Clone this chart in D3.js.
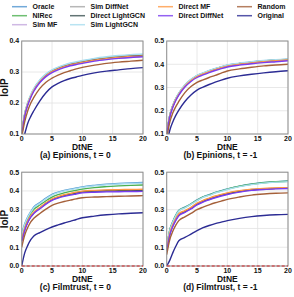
<!DOCTYPE html>
<html><head><meta charset="utf-8">
<script src="https://cdn.jsdelivr.net/npm/d3@7"></script>
<style>body{margin:0;background:#fff}svg{display:block}text{font-family:"Liberation Sans",Arial,sans-serif;font-weight:bold;fill:#111}</style>
</head><body><svg id="c" width="294" height="297"></svg>
<script>
const seriesNames = ["Oracle","NIRec","Sim MF","Sim DiffNet","Direct LightGCN","Sim LightGCN","Direct MF","Direct DiffNet","Random","Original"];
const seriesColors = ["#4f95d0","#4cb050","#c4a8de","#a6a6a6","#3c5252","#a8def0","#ff9a45","#7a3cf0","#a5603a","#2c2c94"];
const xValues = [0,0.5,1,1.5,2,3,4,5,6,7,8,9,10,12,14,16,18,20];
const xTicks = [0,5,10,15,20];
const captions = ["(a) Epinions, t = 0","(b) Epinions, t = -1","(c) Filmtrust, t = 0","(d) Filmtrust, t = -1"];
const yTicksA = [0.1,0.2,0.3,0.4];
const yTicksB = [0.1,0.2,0.3,0.4,0.5];
const yTicksCD = [0.0,0.1,0.2,0.3,0.4,0.5];
const zeroLine = [0,0];

// Panel (a) Epinions, t = 0
const epinionsT0 = [
 [0.100,0.165,0.200,0.225,0.245,0.273,0.292,0.305,0.314,0.321,0.327,0.331,0.335,0.342,0.347,0.351,0.354,0.356],
 [0.099,0.164,0.199,0.224,0.244,0.272,0.291,0.304,0.313,0.320,0.326,0.330,0.334,0.341,0.346,0.350,0.353,0.355],
 [0.098,0.163,0.198,0.223,0.243,0.271,0.290,0.303,0.312,0.319,0.325,0.329,0.333,0.340,0.345,0.349,0.352,0.354],
 [0.099,0.164,0.199,0.224,0.244,0.272,0.291,0.304,0.313,0.320,0.326,0.330,0.334,0.341,0.346,0.350,0.353,0.355],
 [0.098,0.162,0.197,0.222,0.242,0.270,0.289,0.302,0.311,0.318,0.324,0.328,0.332,0.339,0.344,0.348,0.351,0.353],
 [0.101,0.167,0.202,0.227,0.247,0.275,0.294,0.307,0.316,0.323,0.329,0.333,0.337,0.344,0.349,0.353,0.356,0.358],
 [0.097,0.161,0.196,0.221,0.241,0.269,0.288,0.301,0.310,0.317,0.323,0.327,0.331,0.338,0.343,0.347,0.350,0.352],
 [0.094,0.158,0.193,0.218,0.238,0.266,0.285,0.298,0.307,0.314,0.320,0.324,0.328,0.335,0.340,0.344,0.347,0.349],
 [0.090,0.140,0.175,0.200,0.218,0.247,0.267,0.280,0.290,0.298,0.304,0.310,0.315,0.322,0.328,0.332,0.335,0.338],
 [0.060,0.100,0.135,0.157,0.175,0.207,0.233,0.252,0.263,0.272,0.279,0.284,0.289,0.297,0.303,0.307,0.311,0.314]
];
// Panel (b) Epinions, t = -1
const epinionsT1 = [
 [0.100,0.180,0.222,0.252,0.275,0.310,0.334,0.351,0.362,0.372,0.381,0.389,0.396,0.404,0.410,0.415,0.419,0.422],
 [0.100,0.179,0.221,0.251,0.274,0.309,0.333,0.350,0.361,0.371,0.380,0.388,0.395,0.403,0.409,0.414,0.418,0.421],
 [0.099,0.178,0.220,0.250,0.273,0.308,0.332,0.349,0.360,0.370,0.379,0.387,0.394,0.402,0.408,0.413,0.417,0.420],
 [0.100,0.179,0.221,0.251,0.274,0.309,0.333,0.350,0.361,0.371,0.380,0.388,0.395,0.403,0.409,0.414,0.418,0.421],
 [0.099,0.177,0.219,0.249,0.272,0.307,0.331,0.348,0.359,0.369,0.378,0.386,0.393,0.401,0.407,0.412,0.416,0.419],
 [0.101,0.181,0.223,0.253,0.276,0.311,0.335,0.352,0.363,0.373,0.382,0.390,0.397,0.405,0.411,0.416,0.420,0.423],
 [0.098,0.176,0.218,0.248,0.271,0.306,0.330,0.347,0.358,0.368,0.377,0.385,0.392,0.400,0.406,0.411,0.415,0.418],
 [0.096,0.172,0.214,0.244,0.267,0.302,0.326,0.343,0.354,0.364,0.373,0.381,0.388,0.396,0.402,0.407,0.411,0.415],
 [0.080,0.150,0.190,0.218,0.240,0.278,0.304,0.322,0.333,0.343,0.352,0.362,0.371,0.380,0.387,0.393,0.397,0.400],
 [0.050,0.115,0.152,0.180,0.203,0.240,0.268,0.289,0.302,0.313,0.323,0.332,0.340,0.350,0.357,0.363,0.368,0.372]
];
// Panel (c) Filmtrust, t = 0
const filmtrustT0 = [
 [0.170,0.225,0.262,0.290,0.315,0.338,0.362,0.382,0.394,0.403,0.410,0.416,0.422,0.430,0.436,0.440,0.443,0.445],
 [0.150,0.212,0.250,0.280,0.302,0.325,0.348,0.367,0.380,0.390,0.398,0.404,0.410,0.418,0.423,0.427,0.430,0.432],
 [0.132,0.193,0.234,0.262,0.283,0.308,0.333,0.353,0.365,0.374,0.381,0.387,0.393,0.396,0.398,0.399,0.400,0.401],
 [0.138,0.198,0.238,0.266,0.285,0.310,0.335,0.356,0.368,0.378,0.385,0.392,0.397,0.401,0.404,0.405,0.406,0.407],
 [0.135,0.196,0.236,0.264,0.284,0.309,0.334,0.354,0.366,0.376,0.383,0.389,0.395,0.399,0.401,0.402,0.403,0.404],
 [0.165,0.222,0.259,0.287,0.311,0.334,0.358,0.378,0.391,0.400,0.407,0.413,0.419,0.427,0.433,0.437,0.440,0.442],
 [0.140,0.200,0.240,0.268,0.287,0.312,0.337,0.358,0.370,0.380,0.387,0.394,0.399,0.403,0.406,0.407,0.408,0.409],
 [0.130,0.190,0.232,0.260,0.280,0.305,0.330,0.350,0.362,0.371,0.378,0.384,0.390,0.393,0.395,0.396,0.397,0.398],
 [0.100,0.165,0.205,0.235,0.254,0.280,0.303,0.323,0.335,0.344,0.351,0.358,0.364,0.368,0.370,0.372,0.373,0.375],
 [0.000,0.070,0.110,0.140,0.160,0.178,0.194,0.208,0.219,0.229,0.238,0.248,0.257,0.266,0.273,0.278,0.281,0.284]
];
// Panel (d) Filmtrust, t = -1
const filmtrustT1 = [
 [0.100,0.192,0.237,0.272,0.297,0.314,0.331,0.352,0.369,0.380,0.392,0.402,0.411,0.426,0.437,0.445,0.450,0.454],
 [0.100,0.190,0.235,0.270,0.295,0.312,0.330,0.350,0.368,0.378,0.391,0.400,0.410,0.425,0.436,0.444,0.449,0.452],
 [0.082,0.167,0.212,0.245,0.270,0.288,0.306,0.328,0.343,0.355,0.366,0.375,0.383,0.396,0.405,0.410,0.413,0.415],
 [0.088,0.173,0.218,0.250,0.276,0.293,0.311,0.333,0.348,0.360,0.371,0.380,0.388,0.400,0.408,0.412,0.414,0.416],
 [0.085,0.170,0.215,0.248,0.273,0.290,0.308,0.330,0.345,0.357,0.368,0.377,0.385,0.398,0.406,0.411,0.414,0.416],
 [0.098,0.188,0.233,0.268,0.293,0.310,0.328,0.348,0.366,0.376,0.389,0.398,0.408,0.423,0.434,0.442,0.447,0.450],
 [0.090,0.175,0.220,0.252,0.278,0.295,0.313,0.335,0.350,0.362,0.373,0.382,0.390,0.402,0.410,0.414,0.416,0.418],
 [0.080,0.165,0.210,0.243,0.268,0.286,0.304,0.326,0.341,0.353,0.364,0.373,0.381,0.394,0.403,0.408,0.411,0.413],
 [0.060,0.140,0.185,0.218,0.242,0.262,0.280,0.300,0.314,0.326,0.337,0.346,0.355,0.368,0.378,0.384,0.388,0.390],
 [0.000,0.030,0.070,0.105,0.135,0.152,0.170,0.188,0.204,0.216,0.226,0.234,0.242,0.254,0.263,0.269,0.273,0.275]
];

const panels = [
 {data:epinionsT0, y:[0.1,0.4], ticks:yTicksA, x0:21.7, x1:143, y0:41, y1:134, cap:captions[0], yl:true, zero:false},
 {data:epinionsT1, y:[0.1,0.5], ticks:yTicksB, x0:166.7, x1:288, y0:41, y1:134, cap:captions[1], yl:false, zero:false},
 {data:filmtrustT0, y:[0,0.5], ticks:yTicksCD, x0:21.7, x1:143, y0:172.2, y1:266, cap:captions[2], yl:true, zero:true},
 {data:filmtrustT1, y:[0,0.5], ticks:yTicksCD, x0:166.7, x1:288, y0:172.2, y1:266, cap:captions[3], yl:false, zero:true}
];

const svg = d3.select("#c");
const defs = svg.append("defs");

panels.forEach((p,i)=>{
  const x = d3.scaleLinear().domain([0,20]).range([p.x0,p.x1]);
  const y = d3.scaleLinear().domain(p.y).range([p.y1,p.y0]);
  const g = svg.append("g");
  defs.append("clipPath").attr("id","clip"+i).append("rect")
    .attr("x",p.x0).attr("y",p.y0).attr("width",p.x1-p.x0).attr("height",p.y1-p.y0);
  // grid
  g.selectAll(".gy").data(p.ticks).join("line")
    .attr("x1",p.x0).attr("x2",p.x1).attr("y1",d=>y(d)).attr("y2",d=>y(d))
    .attr("stroke","#e2e2e2").attr("stroke-width",0.8);
  g.selectAll(".gx").data(xTicks).join("line")
    .attr("y1",p.y0).attr("y2",p.y1).attr("x1",d=>x(d)).attr("x2",d=>x(d))
    .attr("stroke","#e2e2e2").attr("stroke-width",0.8);
  // lines
  const line = d3.line().x((d,k)=>x(xValues[k])).y(d=>y(d)).curve(d3.curveMonotoneX);
  const lg = g.append("g").attr("clip-path","url(#clip"+i+")");
  p.data.forEach((s,j)=>{
    lg.append("path").attr("d",line(s)).attr("fill","none")
      .attr("stroke",seriesColors[j]).attr("stroke-width",1.4);
  });
  // frame
  g.append("rect").attr("x",p.x0).attr("y",p.y0).attr("width",p.x1-p.x0).attr("height",p.y1-p.y0)
    .attr("fill","none").attr("stroke","#8f8f8f").attr("stroke-width",1);
  if(p.zero){
    g.append("path").attr("d",d3.line().x((d,k)=>x(k*20)).y(d=>y(d))(zeroLine))
      .attr("stroke","#d62728").attr("stroke-width",1.2).attr("stroke-dasharray","3,2").attr("fill","none");
  }
  // tick labels
  g.selectAll(".ty").data(p.ticks).join("text")
    .attr("x",p.x0-2.5).attr("y",d=>y(d)).attr("dy","0.35em").attr("text-anchor","end")
    .attr("font-size",7).text(d=>d3.format(".1f")(d));
  g.selectAll(".tx").data(xTicks).join("text")
    .attr("x",d=>x(d)).attr("y",p.y1+7).attr("text-anchor","middle")
    .attr("font-size",7).text(d=>d);
  g.append("text").attr("x",(p.x0+p.x1)/2).attr("y",p.y1+15.8).attr("text-anchor","middle")
    .attr("font-size",8.5).text("DtNE");
  g.append("text").attr("x",(p.x0+p.x1)/2 - 7).attr("y",p.y1+24.3).attr("text-anchor","middle")
    .attr("font-size",8.5).text(p.cap);
  if(p.yl){
    g.append("text").attr("transform",`translate(8,${(p.y0+p.y1)/2}) rotate(-90)`)
      .attr("text-anchor","middle").attr("font-size",10).text("IoIP");
  }
});

// legend (column-major)
const colX = [12,70,158,237];
const colRows = [[0,1,2],[3,4,5],[6,7],[8,9]];
const rowY = [6.7,15.7,24.7];
colRows.forEach((rows,c)=>{
  rows.forEach((si,r)=>{
    const lg = svg.append("g");
    lg.append("line").attr("x1",colX[c]).attr("x2",colX[c]+15).attr("y1",rowY[r]).attr("y2",rowY[r])
      .attr("stroke",seriesColors[si]).attr("stroke-width",1.5).attr("opacity",0.8);
    lg.append("text").attr("x",colX[c]+20.5).attr("y",rowY[r]).attr("dy","0.35em")
      .attr("font-size",7).text(seriesNames[si]);
  });
});
</script></body></html>
